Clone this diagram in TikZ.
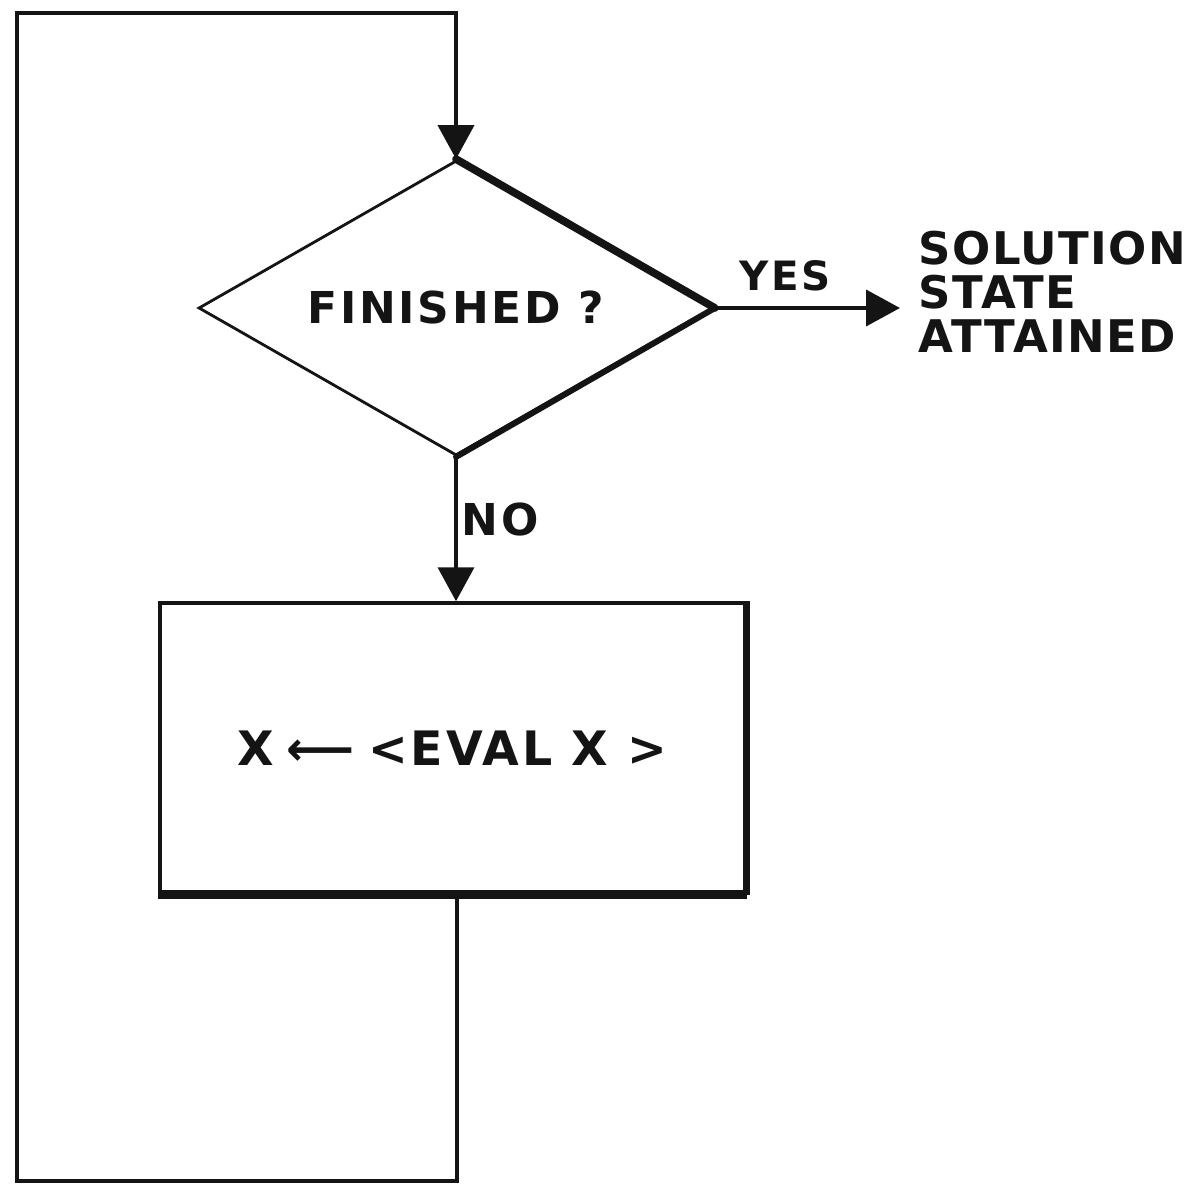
\documentclass[tikz,border=0pt]{standalone}
\usepackage{fontspec}
\setmainfont{DejaVu Sans}
\newfontfamily\lettering[LetterSpace=6]{DejaVu Sans}
\newfontfamily\widelettering[LetterSpace=3]{DejaVu Sans}
\usetikzlibrary{shapes.geometric,arrows.meta}
\definecolor{ink}{RGB}{20,20,20}

\begin{document}
\begin{tikzpicture}[
    inkline/.style={draw=ink, line width=1.1pt},
    flow/.style={inkline, -{Triangle[length=0.34cm,width=0.36cm]}},
    caption/.style={text=ink, inner sep=0pt, font=\lettering\bfseries\fontsize{12.5}{12.2}\selectfont}
  ]
  \useasboundingbox (0,0) rectangle (11.89,11.85);
  % Decision box
  \node[diamond, caption, draw=ink, line width=0.8pt, shape aspect=1.75,
        minimum width=5.15cm, minimum height=2.95cm] (q) at (4.56,8.77) {FINISHED ?};
  \draw[ink, line width=2.2pt, line cap=round] (q.north) -- (q.east);
  \draw[ink, line width=1.7pt, line cap=round] (q.east) -- (q.south);
  % Update box
  \node[caption, draw=ink, line width=1pt, minimum width=5.85cm, minimum height=2.9cm,
        font=\lettering\bfseries\fontsize{13.5}{13}\selectfont]
    (upd) at (4.525,4.37) {X\hspace{0.25em}⟵\hspace{0.3em}<EVAL X >};
  \draw[ink, line width=1.6pt] (upd.north east) -- (upd.south east);
  \draw[ink, line width=2.6pt] (upd.south west) -- (upd.south east);
  % Outcome
  \node[caption, anchor=west, align=left, font=\widelettering\bfseries\fontsize{12.8}{12.6}\selectfont]
    (sol) at (9.18,8.93) {SOLUTION\\STATE\\ATTAINED};
  \draw[flow, shorten >=0.18cm] (q.east) -- (q.east -| sol.west);
  \node[caption, font=\lettering\bfseries\fontsize{11.5}{12}\selectfont] (yes) at (7.85,9.09) {YES};
  % Not finished
  \draw[flow] (q.south) -- (q.south |- upd.north);
  \node[caption] (no) at (5.0,6.65) {NO};
  % Loop back
  \coordinate (lp1) at (4.57,0.04);
  \coordinate (lp2) at (0.17,0.04);
  \coordinate (lp3) at (0.17,11.72);
  \coordinate (lp4) at (4.56,11.72);
  \draw[flow] (upd.south -| lp1) -- (lp1) -- (lp2) -- (lp3) -- (lp4) -- (q.north);
\end{tikzpicture}
\end{document}
